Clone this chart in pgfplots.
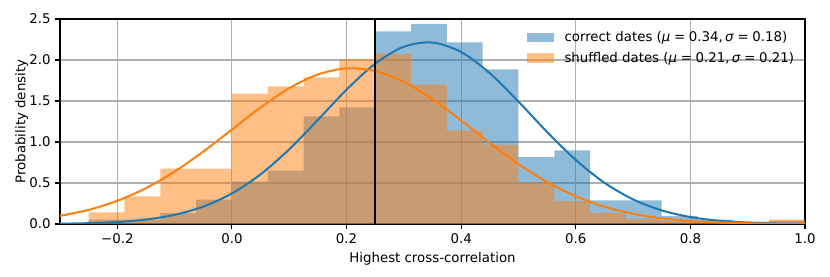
\documentclass[border=0pt]{standalone}
\usepackage{fontspec}
\setmainfont{DejaVu Sans}
\usepackage{pgfplots}
\pgfplotsset{compat=1.18}
\definecolor{tabblue}{HTML}{1F77B4}
\definecolor{taborange}{HTML}{FF7F0E}
\definecolor{gridgray}{HTML}{B0B0B0}
\begin{document}
\begin{tikzpicture}
\begin{axis}[
  scale only axis, width=558.75pt, height=153.75pt,
  xmin=-0.3, xmax=1.0, ymin=0, ymax=2.5,
  xtick={-0.2,0,0.2,0.4,0.6,0.8,1.0},
  xticklabels={−0.2,0.0,0.2,0.4,0.6,0.8,1.0},
  ytick={0,0.5,1,1.5,2,2.5},
  yticklabels={0.0,0.5,1.0,1.5,2.0,2.5},
  tick align=outside, tick pos=left,
  major tick length=3.5pt,
  every tick/.style={black, line width=0.8pt},
  grid=major, grid style={color=gridgray, line width=0.8pt},
  axis line style={line width=0.8pt},
  xlabel={Highest cross-correlation}, ylabel={Probability density},
  ylabel style={yshift=-6pt},
  legend style={draw=none, fill=none, at={(rel axis cs:1,1)}, anchor=north east,
    xshift=-4pt, yshift=-6pt, row sep=4.5pt,
    nodes={inner sep=1pt}},
  legend cell align=left,
  legend image code/.code={\fill[#1] (0pt,-3.5pt) rectangle (20pt,3.5pt); \path (27pt,0pt);},
]
\coordinate (ll) at (rel axis cs:0,0);
\coordinate (ur) at (rel axis cs:1,1);
\addplot[ybar interval, fill=tabblue, fill opacity=0.5, draw=none] coordinates {
(-0.25,0.053) (-0.1875,0.053) (-0.125,0.134) (-0.0625,0.297) (0,0.516) (0.0625,0.650)
(0.125,1.313) (0.1875,1.423) (0.25,2.35) (0.3125,2.439) (0.375,2.215) (0.4375,1.886)
(0.5,0.817) (0.5625,0.898) (0.625,0.289) (0.6875,0.289) (0.75,0.10) (0.8125,0.053)
(0.875,0.028) (0.9375,0.04) (1.0,0)};
\addlegendentry{correct dates (\textit{μ}\;=\;0.34,\,\textit{σ}\;=\;0.18)}
\addplot[ybar interval, fill=taborange, fill opacity=0.5, draw=none] coordinates {
(-0.25,0.142) (-0.1875,0.337) (-0.125,0.675) (-0.0625,0.675) (0,1.589) (0.0625,1.679)
(0.125,1.789) (0.1875,2.012) (0.25,2.077) (0.3125,1.699) (0.375,1.138) (0.4375,0.967)
(0.5,0.508) (0.5625,0.28) (0.625,0.134) (0.6875,0.061) (0.75,0.037) (0.8125,0.02)
(0.875,0) (0.9375,0.053) (1.0,0)};
\addlegendentry{shuffled dates (\textit{μ}\;=\;0.21,\,\textit{σ}\;=\;0.21)}
\addplot[tabblue, line width=1.5pt, smooth, forget plot] coordinates {
(-0.30,0.0040) (-0.25,0.0103) (-0.20,0.0246) (-0.15,0.0545) (-0.10,0.1117) (-0.05,0.2120)
(0.00,0.3723) (0.05,0.6053) (0.10,0.9112) (0.15,1.2697) (0.20,1.6378) (0.25,1.9559)
(0.30,2.1623) (0.35,2.2129) (0.40,2.0966) (0.45,1.8388) (0.50,1.4930) (0.55,1.1222)
(0.60,0.7809) (0.65,0.5030) (0.70,0.2999) (0.75,0.1656) (0.80,0.0846) (0.85,0.0400)
(0.90,0.0175) (0.95,0.0071) (1.00,0.0027)};
\addplot[taborange, line width=1.5pt, smooth, forget plot] coordinates {
(-0.30,0.0995) (-0.25,0.1725) (-0.20,0.2825) (-0.15,0.4371) (-0.10,0.6390) (-0.05,0.8828)
(0.00,1.1522) (0.05,1.4211) (0.10,1.6562) (0.15,1.8237) (0.20,1.8976) (0.25,1.8656)
(0.30,1.7330) (0.35,1.5212) (0.40,1.2616) (0.45,0.9887) (0.50,0.7321) (0.55,0.5122)
(0.60,0.3387) (0.65,0.2116) (0.70,0.1249) (0.75,0.0696) (0.80,0.0367) (0.85,0.0183)
(0.90,0.0086) (0.95,0.0038) (1.00,0.0016)};
\addplot[black, line width=1.5pt, forget plot] coordinates {(0.25,0) (0.25,2.5)};
\end{axis}
\pgfresetboundingbox
\path ([shift={(-45pt,-39.75pt)}]ll) rectangle ([shift={(18.75pt,14.25pt)}]ur);
\end{tikzpicture}
\end{document}
